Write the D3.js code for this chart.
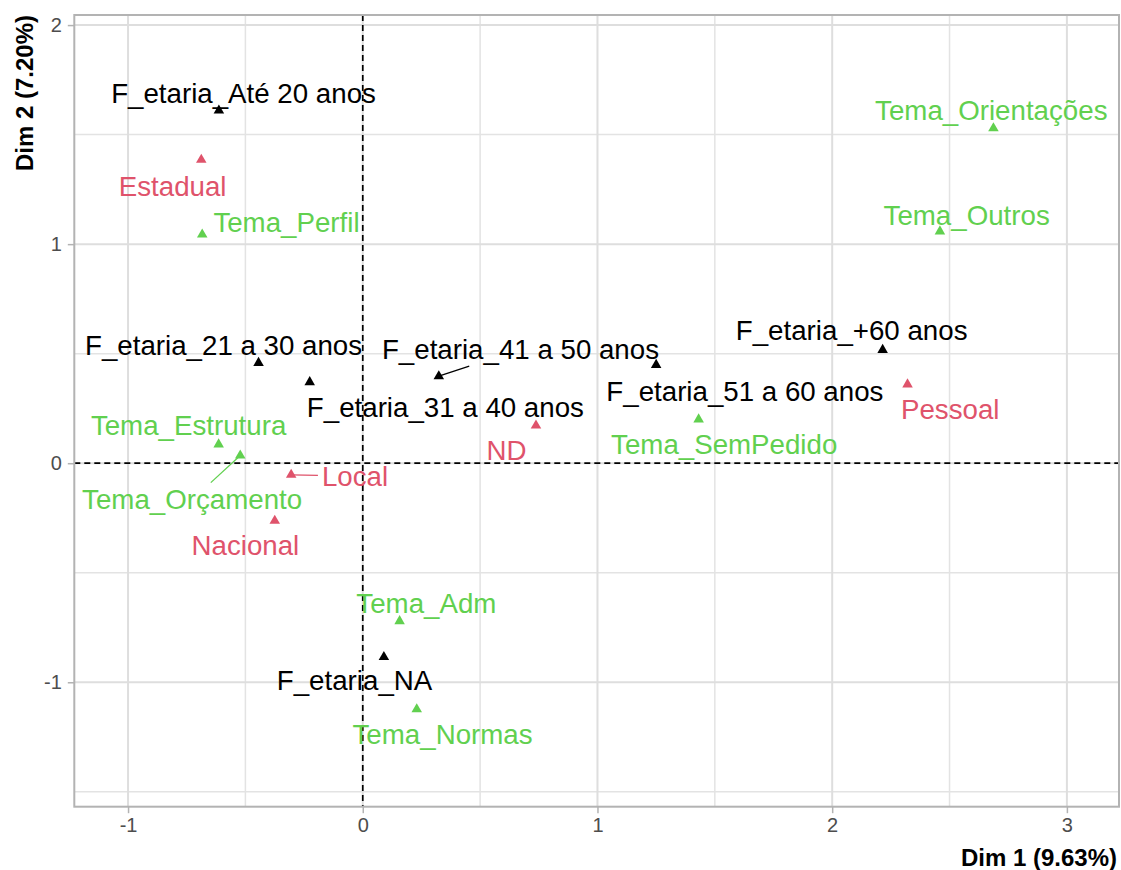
<!DOCTYPE html>
<meta charset="utf-8">
<title>MCA - Dim 1 x Dim 2</title>
<style>
body { margin: 0; background: #fff; }
text { font-family: "Liberation Sans", Arial, sans-serif; }
</style>
<svg width="1121" height="870"></svg>
<script src="https://d3js.org/d3.v7.min.js"></script>
<script>

// faixa etaria (black)
var ageNames = ["F_etaria_Até 20 anos", "F_etaria_21 a 30 anos", "F_etaria_31 a 40 anos",
                "F_etaria_41 a 50 anos", "F_etaria_51 a 60 anos", "F_etaria_+60 anos", "F_etaria_NA"];
var ageDim1 = [-0.613, -0.444, -0.226, 0.324, 1.250, 2.215, 0.090];
var ageDim2 = [1.610, 0.458, 0.370, 0.397, 0.449, 0.517, -0.885];
var ageLabDim1 = [-0.508, -0.593, 0.352, 0.672, 1.628, 2.083, -0.035];
var ageLabDim2 = [1.690, 0.537, 0.254, 0.522, 0.329, 0.606, -0.992];

// esfera (red)
var levelNames = ["Estadual", "Local", "Nacional", "ND", "Pessoal"];
var levelDim1 = [-0.688, -0.305, -0.375, 0.738, 2.321];
var levelDim2 = [1.385, -0.053, -0.263, 0.172, 0.360];
var levelLabDim1 = [-0.810, -0.033, -0.500, 0.612, 2.503];
var levelLabDim2 = [1.263, -0.060, -0.376, 0.058, 0.248];

// tema (green)
var temaNames = ["Tema_Orientações", "Tema_Outros", "Tema_Perfil", "Tema_SemPedido",
                 "Tema_Estrutura", "Tema_Orçamento", "Tema_Adm", "Tema_Normas"];
var temaDim1 = [2.687, 2.459, -0.684, 1.431, -0.614, -0.522, 0.157, 0.230];
var temaDim2 = [1.529, 1.058, 1.044, 0.200, 0.086, 0.035, -0.721, -1.123];
var temaLabDim1 = [2.678, 2.573, -0.325, 1.540, -0.742, -0.727, 0.271, 0.340];
var temaLabDim2 = [1.610, 1.131, 1.100, 0.085, 0.172, -0.167, -0.639, -1.238];

// labels pushed away far enough to get a leader segment
var segmentLabels = ["F_etaria_41 a 50 anos", "Tema_Orçamento", "Local"];

var xTicks = [-1, 0, 1, 2, 3];
var yTicks = [-1, 0, 1, 2];
var xMinor = [-0.5, 0.5, 1.5, 2.5];
var yMinor = [-1.5, -0.5, 0.5, 1.5];
var xTitle = "Dim 1 (9.63%)";
var yTitle = "Dim 2 (7.20%)";

var colors = { age: "#000000", level: "#DF536B", tema: "#61D04F" };

function build(group, names, d1, d2, l1, l2) {
  return names.map(function(n, i) {
    return { name: n, group: group, x: d1[i], y: d2[i], lx: l1[i], ly: l2[i] };
  });
}
var points = [].concat(
  build("age", ageNames, ageDim1, ageDim2, ageLabDim1, ageLabDim2),
  build("level", levelNames, levelDim1, levelDim2, levelLabDim1, levelLabDim2),
  build("tema", temaNames, temaDim1, temaDim2, temaLabDim1, temaLabDim2)
);

var svg = d3.select("svg");
var pLeft = 74.3, pRight = 1119, pTop = 15, pBottom = 806.7;

var x = d3.scaleLinear().domain([-1.229, 3.222]).range([pLeft, pRight]);
var y = d3.scaleLinear().domain([-1.568, 2.046]).range([pBottom, pTop]);

// grid
var grid = svg.append("g");
grid.selectAll(".vminor").data(xMinor).enter().append("line")
    .attr("x1", x).attr("x2", x).attr("y1", pTop).attr("y2", pBottom)
    .attr("stroke", "#E3E3E3").attr("stroke-width", 1.5);
grid.selectAll(".hminor").data(yMinor).enter().append("line")
    .attr("y1", y).attr("y2", y).attr("x1", pLeft).attr("x2", pRight)
    .attr("stroke", "#E3E3E3").attr("stroke-width", 1.5);
grid.selectAll(".vmajor").data(xTicks).enter().append("line")
    .attr("x1", x).attr("x2", x).attr("y1", pTop).attr("y2", pBottom)
    .attr("stroke", "#DEDEDE").attr("stroke-width", 2);
grid.selectAll(".hmajor").data(yTicks).enter().append("line")
    .attr("y1", y).attr("y2", y).attr("x1", pLeft).attr("x2", pRight)
    .attr("stroke", "#DEDEDE").attr("stroke-width", 2);

// reference lines
svg.append("line")
    .attr("x1", x(0)).attr("x2", x(0)).attr("y1", pTop).attr("y2", pBottom)
    .attr("stroke", "#000").attr("stroke-width", 1.7).attr("stroke-dasharray", "6,4");
svg.append("line")
    .attr("y1", y(0)).attr("y2", y(0)).attr("x1", pLeft).attr("x2", pRight)
    .attr("stroke", "#000").attr("stroke-width", 1.7).attr("stroke-dasharray", "6,4");

// axes
var xAxis = svg.append("g").attr("transform", "translate(0," + pBottom + ")")
    .call(d3.axisBottom(x).tickValues(xTicks).tickSize(6.5).tickPadding(5));
var yAxis = svg.append("g").attr("transform", "translate(" + pLeft + ",0)")
    .call(d3.axisLeft(y).tickValues(yTicks).tickSize(6.5).tickPadding(6));
[xAxis, yAxis].forEach(function(a) {
  a.select(".domain").remove();
  a.selectAll(".tick line").attr("stroke", "#B3B3B3").attr("stroke-width", 1.5);
  a.selectAll(".tick text").attr("fill", "#4D4D4D").style("font-size", "20px")
    .style("font-family", "'Liberation Sans', Arial, sans-serif")
    .text(function(d) { return String(d); });
});

// leader segments group sits under labels
var segs = svg.append("g");

// labels
var fontSize = 27.7;
var labels = svg.append("g").selectAll("text").data(points).enter().append("text")
    .attr("x", function(d) { return x(d.lx); })
    .attr("y", function(d) { return y(d.ly); })
    .attr("dy", "0.35em")
    .attr("text-anchor", "middle")
    .attr("fill", function(d) { return colors[d.group]; })
    .style("font-size", fontSize + "px")
    .text(function(d) { return d.name; });

labels.each(function(d) {
  if (segmentLabels.indexOf(d.name) < 0) return;
  var b = this.getBBox();
  var cx = x(d.lx), cy = y(d.ly), px = x(d.x), py = y(d.y);
  var hw = b.width / 2 + 4, hh = fontSize * 0.62;
  var dx = px - cx, dy = py - cy;
  var t = Math.min(dx !== 0 ? hw / Math.abs(dx) : Infinity, dy !== 0 ? hh / Math.abs(dy) : Infinity);
  segs.append("line")
      .attr("x1", cx + dx * t).attr("y1", cy + dy * t)
      .attr("x2", px).attr("y2", py)
      .attr("stroke", colors[d.group]).attr("stroke-width", 1.3);
});

// points
svg.append("g").selectAll("path").data(points).enter().append("path")
    .attr("d", d3.symbol().type(d3.symbolTriangle).size(48))
    .attr("transform", function(d) { return "translate(" + x(d.x) + "," + y(d.y) + ")"; })
    .attr("fill", function(d) { return colors[d.group]; });

// panel border
svg.append("rect")
    .attr("x", pLeft).attr("y", pTop).attr("width", pRight - pLeft).attr("height", pBottom - pTop)
    .attr("fill", "none").attr("stroke", "#B3B3B3").attr("stroke-width", 2);

// axis titles
svg.append("text")
    .attr("x", pRight - 2).attr("y", 866)
    .attr("text-anchor", "end")
    .style("font-size", "24px").style("font-weight", "bold")
    .text(xTitle);
svg.append("text")
    .attr("transform", "translate(33," + pTop + ") rotate(-90)")
    .attr("text-anchor", "end")
    .style("font-size", "24px").style("font-weight", "bold")
    .text(yTitle);

</script>
